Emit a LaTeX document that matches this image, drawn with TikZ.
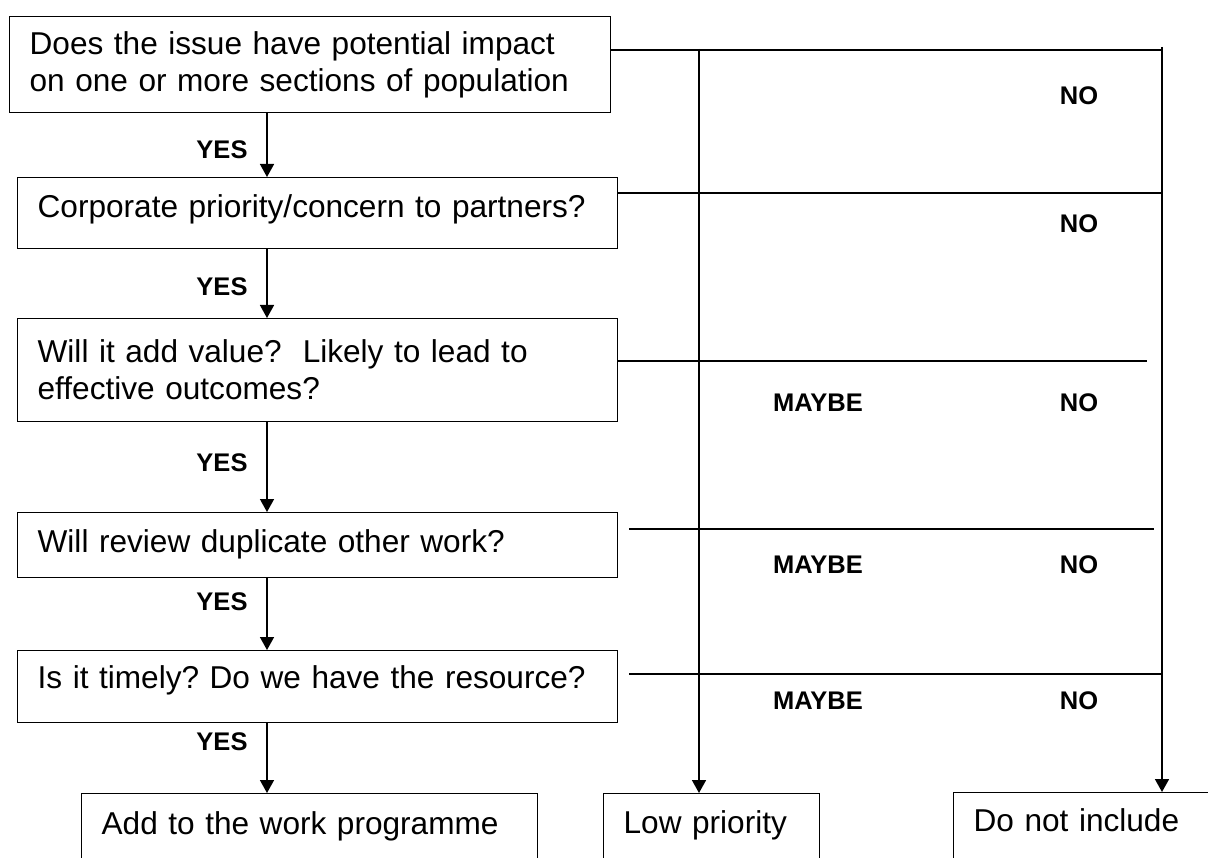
\documentclass[tikz,border=0pt]{standalone}
\usepackage{fontspec}
\setmainfont{Liberation Sans}
\usetikzlibrary{arrows.meta}
\begin{document}
\frenchspacing
\begin{tikzpicture}[x=1pt,y=-1pt,
  qbox/.style={draw,line width=1.3pt,rectangle,anchor=north west,inner xsep=20pt,inner ysep=0pt,
    align=left,font=\fontsize{31.6}{37}\selectfont\frenchspacing},
  lbl/.style={font=\bfseries\fontsize{25.5}{30}\selectfont,inner sep=0pt},
  hline/.style={line width=1.2pt},
  varrow/.style={line width=1.5pt,-{Triangle[width=14pt,length=13pt]}},
  vline/.style={line width=1.7pt,-{Triangle[width=14pt,length=13pt]}},
]
\useasboundingbox (0,0) rectangle (1208,858);
\clip (0,0) rectangle (1208,858);

% question boxes
\node[qbox,text width=561pt,minimum height=96pt] (q1) at (9,16)
  {Does the issue have potential impact\\on one or more sections of population};
\node[qbox,text width=560pt,text height=40pt,text depth=31pt] (q2) at (17,177)
  {Corporate priority/concern to partners?};
\node[qbox,text width=560pt,minimum height=103pt] (q3) at (17,318)
  {Will it add value?\ \ Likely to lead to\\effective outcomes?};
\node[qbox,text width=560pt,text height=40pt,text depth=25pt] (q4) at (17,512)
  {Will review duplicate other work?};
\node[qbox,text width=560pt,text height=38pt,text depth=34pt] (q5) at (17,650)
  {Is it timely? Do we have the resource?};

% outcome boxes
\node[qbox,text width=416pt,text height=41pt,text depth=120pt] (add) at (81,793)
  {Add to the work programme};
\node[qbox,text width=176pt,text height=40pt,text depth=120pt] (low) at (603,793)
  {Low priority};
\node[qbox,text width=300pt,text height=39pt,text depth=120pt] (dni) at (953,792)
  {Do not include};

% junction coordinates
\coordinate (cx) at (267,0);
\coordinate (r1) at (1162,50);
\coordinate (r2) at (1162,193);
\coordinate (e3) at (1147,361);
\coordinate (s4) at (629,529);
\coordinate (e4) at (1154,529);
\coordinate (s5) at (629,674);
\coordinate (r5) at (1162,674);
\coordinate (m0) at (699,49);
\coordinate (t0) at (1162,47);

% YES arrows
\draw[varrow] (q1.south -| cx) -- (q2.north -| cx);
\draw[varrow] (q2.south -| cx) -- (q3.north -| cx);
\draw[varrow] (q3.south -| cx) -- (q4.north -| cx);
\draw[varrow] (q4.south -| cx) -- (q5.north -| cx);
\draw[varrow] (q5.south -| cx) -- (add.north -| cx);

% horizontal branch lines
\draw[hline] (q1.east |- r1) -- (r1);
\draw[hline] (q2.east |- r2) -- (r2);
\draw[hline] (q3.east |- e3) -- (e3);
\draw[hline] (s4) -- (e4);
\draw[hline] (s5) -- (r5);

% vertical collectors
\draw[vline] (m0) -- (m0 |- low.north);
\draw[vline] (t0) -- (t0 |- dni.north);

% labels
\node[lbl] (y1) at (222,150) {YES};
\node[lbl] (y2) at (222,287) {YES};
\node[lbl] (y3) at (222,463) {YES};
\node[lbl] (y4) at (222,602) {YES};
\node[lbl] (y5) at (222,742) {YES};

\node[lbl] (no1) at (1079,96) {NO};
\node[lbl] (no2) at (1079,224) {NO};
\node[lbl] (no3) at (1079,403) {NO};
\node[lbl] (no4) at (1079,565) {NO};
\node[lbl] (no5) at (1079,701) {NO};

\node[lbl] (mb3) at (818,403) {MAYBE};
\node[lbl] (mb4) at (818,565) {MAYBE};
\node[lbl] (mb5) at (818,701) {MAYBE};
\end{tikzpicture}
\end{document}
